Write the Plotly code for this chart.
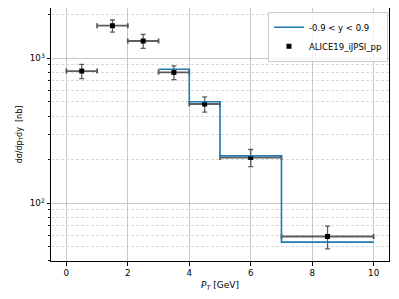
import plotly.graph_objects as go

# Data (ALICE points)
pt_centers = [0.5, 1.5, 2.5, 3.5, 4.5, 6.0, 8.5]
pt_halfwidth = [0.5, 0.5, 0.5, 0.5, 0.5, 1.0, 1.5]
xsec = [817, 1678, 1316, 800, 484, 207, 59]
xsec_err = [92, 160, 145, 88, 58, 28, 10.5]

# Model (step line), bin edges and values
model_edges = [3, 4, 5, 7, 10]
model_vals = [840, 502, 213, 54]

font = "DejaVu Sans, Liberation Sans, sans-serif"

step_x = model_edges
step_y = model_vals + [model_vals[-1]]

fig = go.Figure()
fig.add_trace(go.Scatter(
    x=pt_centers, y=xsec, mode="markers", name="ALICE19_iJPSI_pp",
    marker=dict(symbol="square", size=5, color="black"),
    error_x=dict(type="data", array=pt_halfwidth, color="rgba(40,40,40,0.75)",
                 thickness=1.8, width=2.5),
    error_y=dict(type="data", array=xsec_err, color="rgba(40,40,40,0.75)",
                 thickness=1.3, width=2.5),
    legendrank=2,
))
fig.add_trace(go.Scatter(
    x=step_x, y=step_y, mode="lines", line_shape="hv", name="-0.9 < y < 0.9",
    line=dict(color="#1f77b4", width=1.6), legendrank=1,
))

minor_vals = [m * 10 ** k for k in (1, 2, 3) for m in range(2, 10)]

# page body has an 8px margin, so the figure is 391x291 placed at (8, 8)
fig.update_layout(
    width=391, height=291,
    margin=dict(l=43, r=10, t=0, b=38, pad=0, autoexpand=False),
    plot_bgcolor="white", paper_bgcolor="white",
    font=dict(family=font, size=9, color="black"),
    showlegend=True,
    legend=dict(x=0.997, y=0.985, xanchor="right", yanchor="top",
                bgcolor="rgba(255,255,255,0.8)", bordercolor="#cccccc",
                borderwidth=1, font=dict(size=8.5), tracegroupgap=0,
                itemwidth=30),
)
fig.update_xaxes(
    range=[-0.5, 10.5], tickvals=[0, 2, 4, 6, 8, 10], automargin=False,
    showgrid=True, gridcolor="#c8c8c8", gridwidth=1,
    showline=True, linecolor="black", linewidth=1, mirror=True,
    ticks="outside", ticklen=3.5, tickcolor="black", zeroline=False,
    title=dict(text="<i>P</i><sub><i>T</i></sub> [GeV]", standoff=4, font=dict(size=9)),
    tickfont=dict(size=8.7),
)
fig.update_yaxes(
    type="log", range=[1.602, 3.347], automargin=False,
    tickvals=[100, 1000], ticktext=["10<sup>2</sup>", "10<sup>3</sup>"],
    showgrid=True, gridcolor="#c8c8c8", gridwidth=1.2,
    showline=True, linecolor="black", linewidth=1, mirror=True,
    ticks="outside", ticklen=3.5, tickcolor="black", zeroline=False,
    minor=dict(tickmode="array", tickvals=minor_vals, showgrid=True,
               gridcolor="#dadada", griddash="3px,2px", gridwidth=0.8,
               ticks="outside", ticklen=2, tickcolor="black"),
    title=dict(text="dσ/dp<sub>T</sub>dy  [nb]", standoff=6, font=dict(size=8)),
    tickfont=dict(size=8.7),
)

fig.write_html("out.html")
